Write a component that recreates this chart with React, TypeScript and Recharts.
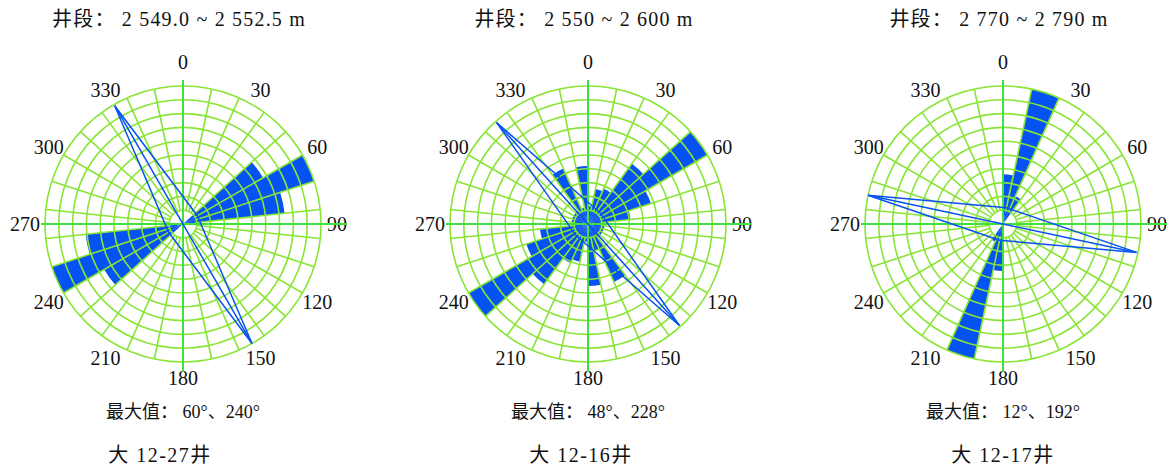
import React from 'react';
import {
  RadialBarChart,
  RadialBar,
  RadarChart,
  Radar,
  PolarGrid,
  PolarAngleAxis,
  PolarRadiusAxis,
} from 'recharts';

// 12-degree bins, compass bearing of each bin start
const binAngles = [
  0, 12, 24, 36, 48, 60, 72, 84, 96, 108, 120, 132, 144, 156, 168,
  180, 192, 204, 216, 228, 240, 252, 264, 276, 288, 300, 312, 324, 336, 348,
];

// bin lengths, in grid rings (10 rings = outer circle)
const roseA = [
  0, 0, 0, 0, 6.7, 10, 7.4, 0, 0, 0, 0, 0, 0, 0, 0,
  0, 0, 0, 0, 6.6, 10, 7.1, 0, 0, 0, 0, 0, 0, 0, 0,
];
const roseB = [
  1.3, 2.6, 2.8, 5.4, 10, 4.8, 3.1, 1.2, 1.2, 1.2, 1.2, 1.2, 4.6, 2.0, 4.5,
  1.3, 2.8, 3.1, 5.4, 10, 4.7, 3.5, 1.2, 1.2, 1.2, 1.2, 1.2, 4.4, 1.2, 4.2,
];
const roseC = [
  3.6, 10, 2.2, 0, 0, 0, 0, 0, 0, 0, 0, 0, 0, 0, 0,
  3.4, 10, 1.4, 0, 0, 0, 0, 0, 0, 0, 0, 0, 0, 0, 0,
];

// thin diamond spikes: four bearings 90 degrees apart
const kiteAnglesA = [60, 150, 240, 330];
const kiteWideA = [1.2, 10, 1.2, 9.9];
const kiteThinA = [0, 10, 0, 9.9];
const kiteAnglesB = [48, 138, 228, 318];
const kiteWideB = [1.2, 9.9, 1.2, 9.9];
const kiteThinB = [0, 9.9, 0, 9.9];
const kiteAnglesC = [12, 102, 192, 282];
const kiteWideC = [1.2, 9.9, 1.2, 10];
const kiteThinC = [0, 9.9, 0, 10];

const dirLabels = ['0', '30', '60', '90', '120', '150', '180', '210', '240', '270', '300', '330'];
const ringLevels = [1, 2, 3, 4, 5, 6, 7, 8, 9, 10];

const SIZE = 400;
const R = 138;
const CY = 224;
const BIN = 12;
const BLUE = '#0752f2';
const GRID = '#88e535';
const AXIS = '#3fe03f';
const SERIF = '"Liberation Serif", "Times New Roman", "Noto Sans CJK SC", serif';

const gridAngles = binAngles.map((a) => 90 - a);
const gridRadii = ringLevels.map((v) => (v / 10) * R);

interface RoseProps {
  cx: number;
  values: number[];
  kiteAngles: number[];
  kiteWide: number[];
  kiteThin: number[];
  title: string;
  maxText: string;
  wellText: string;
  wellX: number;
}

// small nudges so the labels sit where the original puts them
const tickNudge: Record<string, [number, number]> = {
  '0': [0, -7],
  '180': [0, -1],
  '270': [-3, 0],
  '90': [-1, 0],
};

function DirTick(props: any) {
  const { x, y, payload } = props;
  const [dx, dy] = tickNudge[payload.value] || [0, 0];
  return (
    <text x={x + dx} y={y + dy} textAnchor="middle" dominantBaseline="central" fill="#111" fontSize={20} fontFamily={SERIF}>
      {payload.value}
    </text>
  );
}

function Rose({ cx, values, kiteAngles, kiteWide, kiteThin, title, maxText, wellText, wellX }: RoseProps) {
  const barData = binAngles.map((a, i) => ({ bin: String(a), value: values[i] }));
  const labelData = dirLabels.map((d) => ({ dir: d, v: 0 }));
  const kiteData = kiteAngles.map((a, i) => ({ dir: String(a), wide: kiteWide[i], thin: kiteThin[i] }));
  const kiteStart = 90 - kiteAngles[0];
  const layer: React.CSSProperties = { position: 'absolute', left: cx - SIZE / 2, top: CY - SIZE / 2 };
  const textBase: React.CSSProperties = {
    position: 'absolute',
    whiteSpace: 'nowrap',
    fontFamily: SERIF,
    color: '#111',
    lineHeight: 1,
    transform: 'translate(-50%, -50%)',
  };
  const h = SIZE / 2;

  return (
    <>
      <div style={{ ...textBase, left: cx - 4, top: 19, fontSize: 20, letterSpacing: 1.2 }}>{title}</div>

      <div style={layer}>
        {/* band starts one bin clockwise so each sector covers [bin, bin + 12) */}
        <RadialBarChart
          width={SIZE}
          height={SIZE}
          data={barData}
          layout="centric"
          startAngle={90 - BIN}
          endAngle={-270 - BIN}
          innerRadius={0}
          outerRadius={R}
          barCategoryGap={0}
          barGap={0}
          margin={{ top: 0, right: 0, bottom: 0, left: 0 }}
        >
          <PolarAngleAxis type="category" dataKey="bin" tick={false} axisLine={false} />
          <PolarRadiusAxis type="number" domain={[0, 10]} tick={false} axisLine={false} />
          <RadialBar dataKey="value" fill={BLUE} isAnimationActive={false} />
        </RadialBarChart>
      </div>

      <div style={layer}>
        {/* spokes start at the first ring, leaving the centre open */}
        <RadarChart
          width={SIZE}
          height={SIZE}
          data={labelData}
          startAngle={90}
          endAngle={-270}
          innerRadius={gridRadii[0]}
          outerRadius={R}
          margin={{ top: 0, right: 0, bottom: 0, left: 0 }}
        >
          <PolarGrid gridType="circle" polarAngles={gridAngles} polarRadius={gridRadii} stroke={GRID} strokeWidth={1.6} />
          <PolarAngleAxis dataKey="dir" tick={<DirTick />} tickLine={false} tickSize={17} axisLine={false} />
          <PolarRadiusAxis domain={[0, 10]} tick={false} axisLine={false} />
          <Radar dataKey="v" stroke="none" fill="none" isAnimationActive={false} />
        </RadarChart>
      </div>

      <svg style={layer} width={SIZE} height={SIZE}>
        <line x1={h} y1={h - 144} x2={h} y2={h + 148} stroke={AXIS} strokeWidth={2} />
        <line x1={h - 142} y1={h} x2={h + 164} y2={h} stroke={AXIS} strokeWidth={2} />
      </svg>

      <div style={layer}>
        <RadarChart
          width={SIZE}
          height={SIZE}
          data={kiteData}
          startAngle={kiteStart}
          endAngle={kiteStart - 360}
          outerRadius={R}
          margin={{ top: 0, right: 0, bottom: 0, left: 0 }}
        >
          <PolarAngleAxis dataKey="dir" tick={false} axisLine={false} />
          <PolarRadiusAxis type="number" domain={[0, 10]} tick={false} axisLine={false} />
          <Radar dataKey="wide" stroke={BLUE} strokeWidth={1.5} fill="none" isAnimationActive={false} />
          <Radar dataKey="thin" stroke={BLUE} strokeWidth={1.5} fill="none" isAnimationActive={false} />
        </RadarChart>
      </div>

      <div style={{ ...textBase, left: cx, top: 412, fontSize: 18 }}>{maxText}</div>
      <div style={{ ...textBase, left: wellX, top: 455, fontSize: 20, letterSpacing: 1.5 }}>{wellText}</div>
    </>
  );
}

export default function App() {
  return (
    <div style={{ position: 'absolute', left: 0, top: 0, width: 1171, height: 466, background: '#fff', overflow: 'hidden' }}>
      <Rose
        cx={183}
        values={roseA}
        kiteAngles={kiteAnglesA}
        kiteWide={kiteWideA}
        kiteThin={kiteThinA}
        title="井段： 2 549.0 ~ 2 552.5 m"
        maxText="最大值： 60°、240°"
        wellText="大 12-27井"
        wellX={160}
      />
      <Rose
        cx={588}
        values={roseB}
        kiteAngles={kiteAnglesB}
        kiteWide={kiteWideB}
        kiteThin={kiteThinB}
        title="井段： 2 550 ~ 2 600 m"
        maxText="最大值： 48°、228°"
        wellText="大 12-16井"
        wellX={581}
      />
      <Rose
        cx={1003}
        values={roseC}
        kiteAngles={kiteAnglesC}
        kiteWide={kiteWideC}
        kiteThin={kiteThinC}
        title="井段： 2 770 ~ 2 790  m"
        maxText="最大值： 12°、192°"
        wellText="大 12-17井"
        wellX={1003}
      />
    </div>
  );
}
